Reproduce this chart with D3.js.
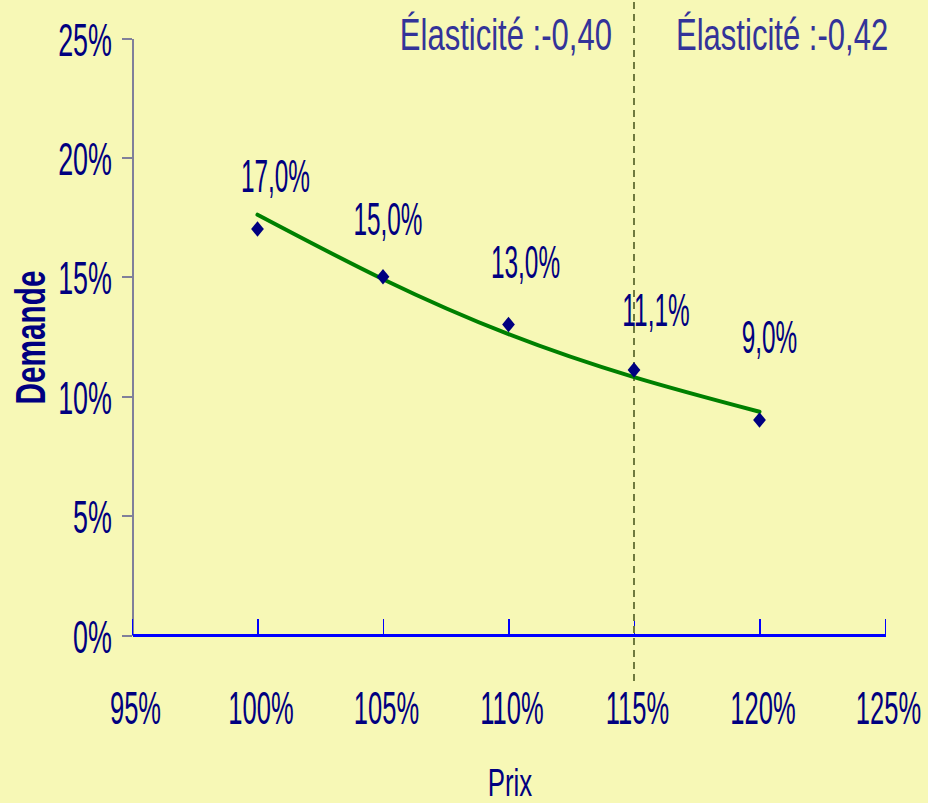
<!DOCTYPE html>
<html>
<head>
<meta charset="utf-8">
<script src="https://cdn.jsdelivr.net/npm/d3@7"></script>
<style>
  html, body { margin: 0; padding: 0; background: #F7F8B6; }
  svg { display: block; }
</style>
</head>
<body>
<svg id="chart" width="928" height="803"></svg>
<script>
// ---------------- DATA ----------------
const prices = [1.00, 1.05, 1.10, 1.15, 1.20];
const demand = [0.170, 0.150, 0.130, 0.111, 0.090];
const pointLabels = ["17,0%", "15,0%", "13,0%", "11,1%", "9,0%"];
const trendPrices = [1.00, 1.05, 1.10, 1.15, 1.20];
const trendDemand = [0.176, 0.149, 0.126, 0.108, 0.0935];
const xTicks = [0.95, 1.00, 1.05, 1.10, 1.15, 1.20, 1.25];
const xTickLabels = ["95%", "100%", "105%", "110%", "115%", "120%", "125%"];
const yTicks = [0, 0.05, 0.10, 0.15, 0.20, 0.25];
const yTickLabels = ["0%", "5%", "10%", "15%", "20%", "25%"];
const markerPrice = 1.15;
const annotations = ["Élasticité :-0,40", "Élasticité :-0,42"];
const xTitle = "Prix";
const yTitle = "Demande";

// ---------------- LAYOUT / STYLE ----------------
const W = 928, H = 803;
const plot = { left: 132, right: 885, top: 38, bottom: 635 };
const FONT = "'Liberation Sans', Arial, sans-serif";
const navy = "#000080";
const labelNudge = [[18, -37], [5, -42], [17, -47], [22, -44], [10, -67]];

const svg = d3.select("#chart");
svg.append("rect").attr("width", W).attr("height", H).attr("fill", "#F7F8B6");

const x = d3.scaleLinear().domain([0.95, 1.25]).range([plot.left, plot.right]);
const y = d3.scaleLinear().domain([0, 0.25]).range([plot.bottom, plot.top]);

// condensed text helper: place text at (px,py) scaled horizontally by sx
function condensed(sel, px, py, sx) {
  sel.attr("x", px / sx).attr("y", py).attr("transform", `scale(${sx},1)`);
}

// ---- Y axis (gray line, left ticks) ----
const yAxis = d3.axisLeft(y).tickValues(yTicks)
  .tickFormat((d, i) => yTickLabels[i]).tickSize(10).tickSizeOuter(0);
const gy = svg.append("g").attr("transform", `translate(${plot.left},0)`).call(yAxis);
gy.select(".domain").attr("stroke", "#80809a").attr("stroke-width", 2);
gy.selectAll(".tick line").attr("stroke", "#80809a").attr("stroke-width", 2);
gy.selectAll(".tick text").each(function () {
  const t = d3.select(this);
  t.attr("fill", navy).attr("font-family", FONT).attr("font-size", 46)
   .attr("text-anchor", "end").attr("dy", null);
  condensed(t, -20, 17, 0.585);
});

// ---- X axis (blue line, upward ticks, labels below) ----
const xAxis = d3.axisBottom(x).tickValues(xTicks)
  .tickFormat((d, i) => xTickLabels[i]).tickSize(-16).tickSizeOuter(0);
const gx = svg.append("g").attr("transform", `translate(0,${plot.bottom})`).call(xAxis);
gx.select(".domain").attr("stroke", "#0000FF").attr("stroke-width", 3);
gx.selectAll(".tick line").attr("stroke", "#0000FF").attr("stroke-width", 1.5);
gx.selectAll(".tick text").each(function () {
  const t = d3.select(this);
  t.attr("fill", navy).attr("font-family", FONT).attr("font-size", 46)
   .attr("text-anchor", "middle").attr("dy", null);
  condensed(t, 3, 89, 0.555);
});
svg.selectAll(".domain, .tick line").attr("shape-rendering", "crispEdges");

// ---- dashed marker line ----
svg.append("line")
  .attr("x1", x(markerPrice)).attr("x2", x(markerPrice))
  .attr("y1", 2).attr("y2", 684)
  .attr("stroke", "#6f7a3e").attr("stroke-width", 2)
  .attr("stroke-dasharray", "7,5");

// ---- trend line ----
const trend = trendPrices.map((p, i) => [p, trendDemand[i]]);
svg.append("path").datum(trend)
  .attr("fill", "none").attr("stroke", "#008000").attr("stroke-width", 4)
  .attr("stroke-linecap", "round")
  .attr("d", d3.line().x(d => x(d[0])).y(d => y(d[1])).curve(d3.curveNatural));

// ---- diamonds ----
const diamondType = {
  draw(ctx, size) {
    const w = Math.sqrt(size) * 0.45, h = Math.sqrt(size) * 0.55;
    ctx.moveTo(0, -h); ctx.lineTo(w, 0); ctx.lineTo(0, h); ctx.lineTo(-w, 0); ctx.closePath();
  }
};
svg.selectAll("path.pt").data(prices).join("path")
  .attr("class", "pt")
  .attr("transform", (d, i) => `translate(${x(d)},${y(demand[i])})`)
  .attr("d", d3.symbol().type(diamondType).size(200))
  .attr("fill", navy);

// ---- data labels ----
svg.selectAll("text.dl").data(prices).join("text")
  .attr("class", "dl")
  .attr("fill", navy).attr("font-family", FONT).attr("font-size", 46)
  .attr("text-anchor", "middle")
  .text((d, i) => pointLabels[i])
  .each(function (d, i) {
    condensed(d3.select(this), x(d) + labelNudge[i][0], y(demand[i]) + labelNudge[i][1], 0.53);
  });

// ---- elasticity annotations ----
const xm = x(markerPrice);
svg.append("text").attr("fill", "#333399").attr("font-family", FONT).attr("font-size", 45)
  .attr("text-anchor", "end").text(annotations[0])
  .call(t => condensed(t, xm - 22, 50, 0.69));
svg.append("text").attr("fill", "#333399").attr("font-family", FONT).attr("font-size", 45)
  .attr("text-anchor", "start").text(annotations[1])
  .call(t => condensed(t, xm + 42, 50, 0.69));

// ---- axis titles ----
svg.append("text").attr("fill", navy).attr("font-family", FONT).attr("font-size", 38)
  .attr("text-anchor", "middle").text(xTitle)
  .call(t => condensed(t, 510, 796, 0.68));
svg.append("text").attr("fill", navy).attr("font-family", FONT).attr("font-size", 42)
  .attr("font-weight", "bold").attr("text-anchor", "middle").text(yTitle)
  .attr("transform", "translate(45,337.5) rotate(-90) scale(0.71,1)");
</script>
</body>
</html>
